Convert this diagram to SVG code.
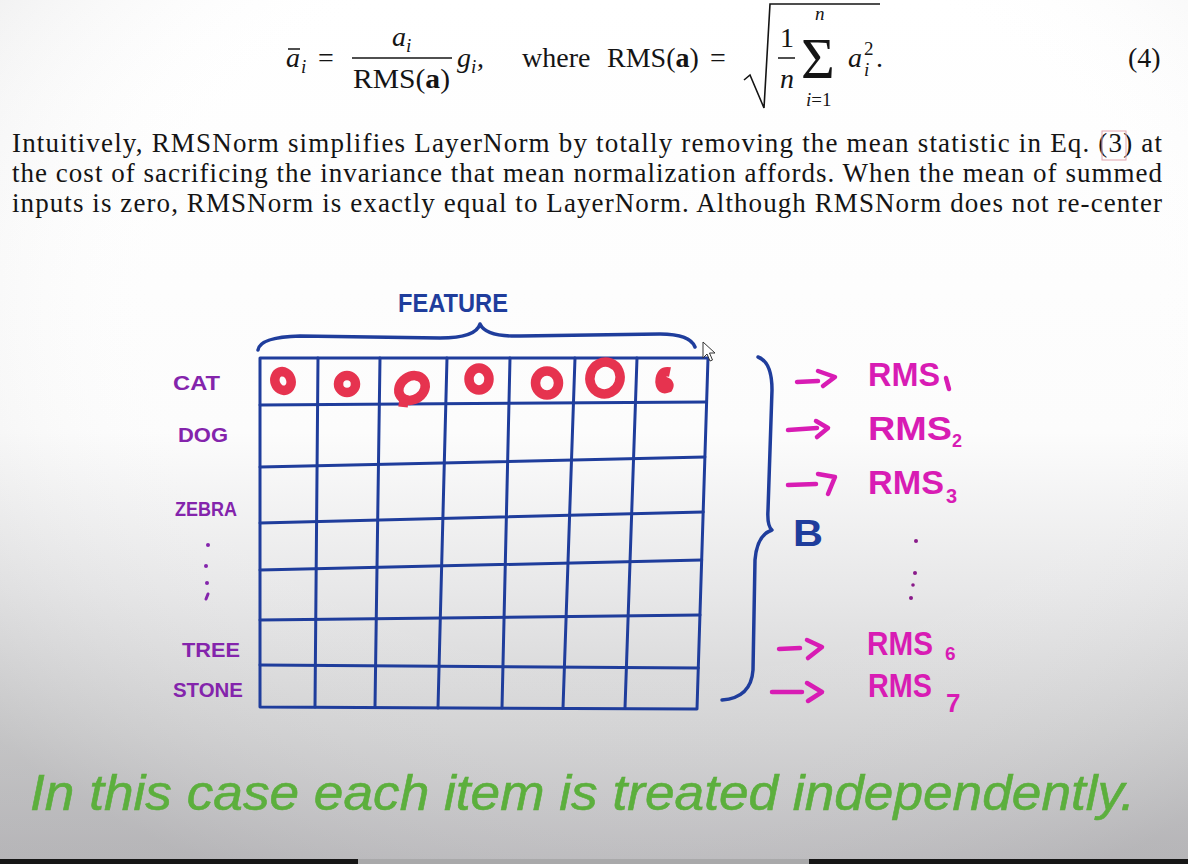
<svg xmlns="http://www.w3.org/2000/svg" width="1188" height="864" viewBox="0 0 1188 864">
<defs>
<linearGradient id="bg" x1="0" y1="0" x2="0" y2="1">
<stop offset="0" stop-color="#ffffff"/>
<stop offset="0.5" stop-color="#fcfcfc"/>
<stop offset="0.68" stop-color="#e8e8e9"/>
<stop offset="0.85" stop-color="#d2d2d3"/>
<stop offset="1" stop-color="#bebdc0"/>
</linearGradient>
<radialGradient id="vig" cx="0.55" cy="0.35" r="0.75">
<stop offset="0.55" stop-color="#ffffff" stop-opacity="0"/>
<stop offset="1" stop-color="#9a9a9c" stop-opacity="0.25"/>
</radialGradient>
</defs>
<style>
.serif{font-family:"Liberation Serif","DejaVu Serif",serif;fill:#141414}
.it{font-style:italic}
.par{font-size:27px}
.eq{font-size:28px}
.sm{font-size:19px}
.grid{stroke:#1f3d9c;stroke-width:3;fill:none;stroke-linecap:round;stroke-linejoin:round}
.blue{stroke:#1f3d9c;stroke-width:3.5;fill:none;stroke-linecap:round;stroke-linejoin:round}
.ring{fill:none;stroke:#e6334f;stroke-width:9.5}
.lbl{font-family:"Liberation Sans","DejaVu Sans",sans-serif;font-weight:bold;fill:#8424ac}
.rms{font-family:"Liberation Sans","DejaVu Sans",sans-serif;font-weight:bold;fill:#d81cb4}
.arr{stroke:#d81cb4;stroke-width:4.5;fill:none;stroke-linecap:round;stroke-linejoin:round}
.bl{font-family:"Liberation Sans","DejaVu Sans",sans-serif;font-weight:bold;fill:#1f3d9c}
.cap{font-family:"Liberation Sans","DejaVu Sans",sans-serif;font-style:italic;fill:#5caf3d;stroke:#5caf3d;stroke-width:0.6}
</style>
<rect x="0" y="0" width="1188" height="864" fill="url(#bg)"/>
<rect x="0" y="0" width="1188" height="864" fill="url(#vig)"/>
<rect x="0" y="859" width="1188" height="5" fill="#161616"/>
<rect x="358" y="859" width="451" height="5" fill="#a9a9aa"/>

<g id="equation">
<text class="serif eq it" x="286" y="67">a</text>
<line x1="288" y1="49" x2="300" y2="49" stroke="#141414" stroke-width="1.5"/>
<text class="serif sm it" x="301" y="73">i</text>
<text class="serif eq" x="318" y="67">=</text>
<text class="serif eq it" x="392" y="46">a</text>
<text class="serif sm it" x="406" y="52">i</text>
<line x1="352" y1="58" x2="452" y2="58" stroke="#141414" stroke-width="1.5"/>
<text class="serif eq" x="353" y="88" textLength="97" lengthAdjust="spacingAndGlyphs">RMS(<tspan font-weight="bold">a</tspan>)</text>
<text class="serif eq it" x="457" y="67">g</text>
<text class="serif sm it" x="471" y="73">i</text>
<text class="serif eq" x="477" y="67">,</text>
<text class="serif eq" x="522" y="67">where</text>
<text class="serif eq" x="607" y="67">RMS(<tspan font-weight="bold">a</tspan>)</text>
<text class="serif eq" x="710" y="67">=</text>
<path d="M744,80 L750,75 L764,108 L770,4 L880,4" fill="none" stroke="#141414" stroke-width="1.6"/>
<text class="serif eq" x="780" y="47">1</text>
<line x1="778" y1="58" x2="795" y2="58" stroke="#141414" stroke-width="1.5"/>
<text class="serif eq it" x="780" y="88">n</text>
<text class="serif" font-size="58" x="801" y="78">Σ</text>
<text class="serif sm it" x="815" y="20">n</text>
<text class="serif sm" x="806" y="106"><tspan font-style="italic">i</tspan>=1</text>
<text class="serif eq it" x="848" y="67">a</text>
<text class="serif sm" x="864" y="55">2</text>
<text class="serif sm it" x="864" y="76">i</text>
<text class="serif eq" x="876" y="67">.</text>
<text class="serif eq" x="1128" y="67">(4)</text>
</g>

<g id="paragraph">
<text class="serif par" x="12" y="152" textLength="1150" lengthAdjust="spacing">Intuitively, RMSNorm simplifies LayerNorm by totally removing the mean statistic in Eq. (3) at</text>
<text class="serif par" x="12" y="182" textLength="1150" lengthAdjust="spacing">the cost of sacrificing the invariance that mean normalization affords. When the mean of summed</text>
<text class="serif par" x="12" y="212" textLength="1150" lengthAdjust="spacing">inputs is zero, RMSNorm is exactly equal to LayerNorm. Although RMSNorm does not re-center</text>
<rect x="1102" y="131" width="24" height="29" fill="none" stroke="#e2a4ad" stroke-width="1"/>
</g>

<g id="feature">
<text class="bl" x="398" y="312" font-size="26" textLength="110" lengthAdjust="spacingAndGlyphs" font-weight="600">FEATURE</text>
<path class="blue" d="M258,350 Q260,337 300,336 L440,338 Q476,338 480,324 Q486,337 520,336 L660,334 Q690,334 695,347"/>
</g>

<g id="matrix">
<path class="grid" d="M260,358 L708,358 L697,709 L260,707 Z"/>
<path class="grid" d="M260,405 L706.6,402 M260,467 L704.9,457 M260,523 L703.2,512 M260,570 L701.7,560 M260,620 L700,615 M260,665 L698.3,668"/>
<path class="grid" d="M318,358 L315,707 M380,358 L375,707 M447,358 L438,708 M510,358 L502,708 M575,358 L563,708 M637,358 L625,708"/>
</g>

<g id="marks">
<ellipse class="ring" cx="283" cy="381" rx="8" ry="9.5" transform="rotate(-20 283 381)"/>
<ellipse class="ring" cx="347" cy="384" rx="8.5" ry="8.5"/>
<ellipse class="ring" cx="412" cy="388" rx="14" ry="11.5" transform="rotate(-35 412 388)"/>
<path class="ring" stroke-width="5" d="M404,399 L403,407"/>
<ellipse class="ring" cx="479" cy="379" rx="10" ry="11"/>
<ellipse class="ring" cx="547" cy="383" rx="11.5" ry="12"/>
<ellipse class="ring" cx="605" cy="378" rx="15" ry="16" transform="rotate(20 605 378)"/>
<path class="ring" stroke-width="5.5" d="M670,372 Q660,370 660,382 Q661,391 668,388 Q671,383 664,381"/>
</g>

<g id="row-labels">
<text class="lbl" x="173" y="390" font-size="21" textLength="47" lengthAdjust="spacingAndGlyphs">CAT</text>
<text class="lbl" x="178" y="442" font-size="21" textLength="50" lengthAdjust="spacingAndGlyphs">DOG</text>
<text class="lbl" x="175" y="516" font-size="21" textLength="62" lengthAdjust="spacingAndGlyphs">ZEBRA</text>
<circle cx="208" cy="545" r="2" fill="#8424ac"/>
<circle cx="206" cy="566" r="2" fill="#8424ac"/>
<circle cx="207" cy="583" r="2" fill="#8424ac"/>
<path d="M208,594 L206,599" stroke="#8424ac" stroke-width="3" stroke-linecap="round"/>
<text class="lbl" x="182" y="657" font-size="21" textLength="58" lengthAdjust="spacingAndGlyphs">TREE</text>
<text class="lbl" x="173" y="697" font-size="21" textLength="70" lengthAdjust="spacingAndGlyphs">STONE</text>
</g>

<g id="batch-brace">
<path class="blue" d="M758,357 Q772,362 772,390 L768,510 Q767,526 772,530 Q757,535 755,560 L753,670 Q751,698 722,700"/>
<text class="bl" x="793" y="546" font-size="36" textLength="30" lengthAdjust="spacingAndGlyphs">B</text>
</g>

<g id="rms-outputs">
<text class="rms" x="868" y="386" font-size="33" textLength="72" lengthAdjust="spacingAndGlyphs">RMS</text>
<path class="arr" d="M946,378 L949,389"/>
<text class="rms" x="868" y="440" font-size="33" textLength="84" lengthAdjust="spacingAndGlyphs">RMS</text>
<text class="rms" x="952" y="447" font-size="18">2</text>
<text class="rms" x="868" y="494" font-size="33" textLength="76" lengthAdjust="spacingAndGlyphs">RMS</text>
<text class="rms" x="946" y="503" font-size="20">3</text>
<circle cx="916" cy="541" r="2" fill="#8a1a8a"/>
<circle cx="915" cy="573" r="2" fill="#8a1a8a"/>
<circle cx="913" cy="585" r="1.8" fill="#8a1a8a"/>
<circle cx="911" cy="598" r="2" fill="#8a1a8a"/>
<text class="rms" x="867" y="655" font-size="33" textLength="66" lengthAdjust="spacingAndGlyphs">RMS</text>
<text class="rms" x="945" y="660" font-size="19">6</text>
<text class="rms" x="868" y="697" font-size="33" textLength="64" lengthAdjust="spacingAndGlyphs">RMS</text>
<text class="rms" x="946" y="712" font-size="26">7</text>
</g>

<g id="connectors">
<path class="arr" d="M797,382 L818,381 M818,371 L835,377 L823,386"/>
<path class="arr" d="M788,430 L817,428 M816,421 L828,428 L817,437"/>
<path class="arr" d="M788,485 L816,484 M818,474 L835,477 L828,494"/>
<path class="arr" d="M779,649 L800,648 M807,640 L822,647 L808,658"/>
<path class="arr" d="M772,692 L802,692 M807,683 L822,692 L808,701"/>
</g>

<g id="cursor">
<path d="M703,342 L703,358 L707,354 L710,361 L712.5,360 L709.5,353 L715,353 Z" fill="#ffffff" stroke="#333" stroke-width="1"/>
</g>

<g id="caption">
<text class="cap" x="30" y="810" font-size="50" textLength="1105" lengthAdjust="spacingAndGlyphs">In this case each item is treated independently.</text>
</g>
</svg>
